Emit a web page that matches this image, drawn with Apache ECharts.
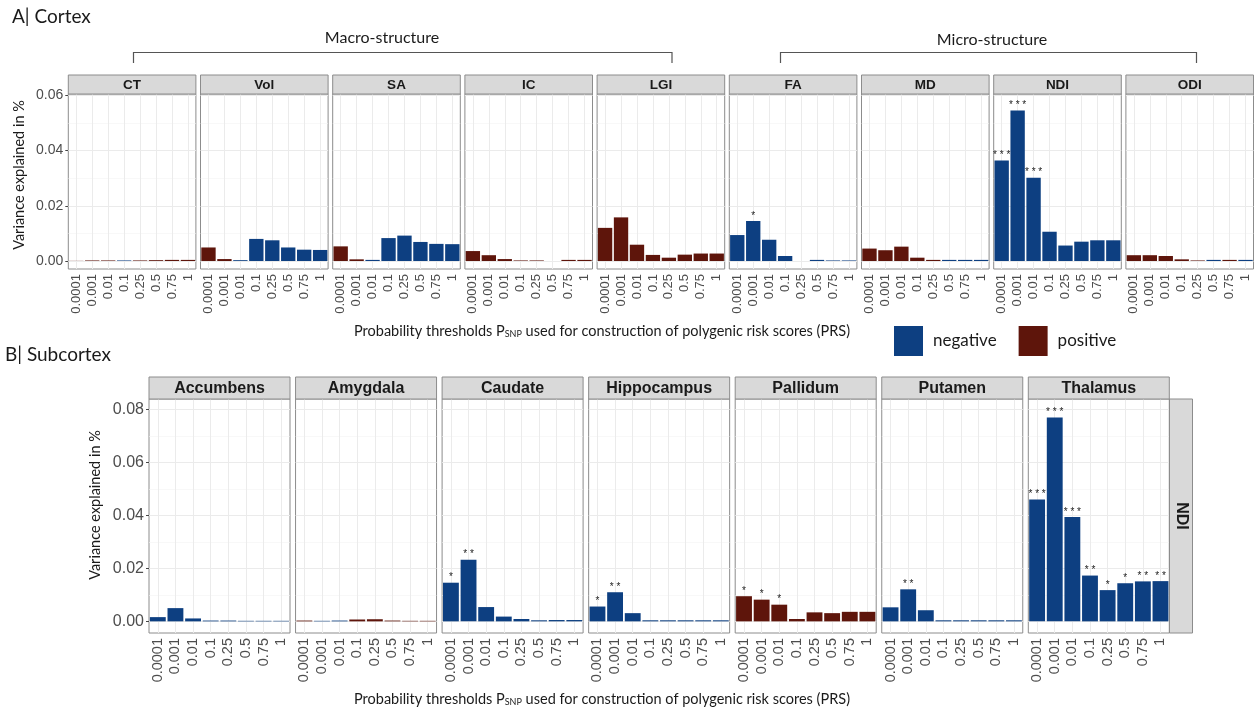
<!DOCTYPE html>
<html><head><meta charset="utf-8">
<script src="https://cdn.jsdelivr.net/npm/echarts@6/dist/echarts.min.js"></script>
<style>html,body{margin:0;padding:0;background:#fff}#c{width:1256px;height:711px}</style>
</head><body><div id="c"></div>
<script>
// ---------- DATA ----------
const thresholds = ['0.0001','0.001','0.01','0.1','0.25','0.5','0.75','1'];
const cortexNames = ['CT','Vol','SA','IC','LGI','FA','MD','NDI','ODI'];
const subcortexNames = ['Accumbens','Amygdala','Caudate','Hippocampus','Pallidum','Putamen','Thalamus'];
const cortexYTicks = [0, 0.02, 0.04, 0.06];
const subcortexYTicks = [0, 0.02, 0.04, 0.06, 0.08];
const legendNames = ['negative','positive'];

// Cortex (A)
const valCT  = [0.00005, 0.0002, 0.0002, 0.0002, 0.0002, 0.0003, 0.0004, 0.0004];
const dirCT  = ['pos','pos','pos','neg','pos','pos','pos','pos'];
const sigCT  = ['','','','','','','',''];
const valVol = [0.0049, 0.0007, 0.0003, 0.0080, 0.0075, 0.0049, 0.0041, 0.0040];
const dirVol = ['pos','pos','neg','neg','neg','neg','neg','neg'];
const sigVol = ['','','','','','','',''];
const valSA  = [0.0053, 0.0006, 0.0004, 0.0083, 0.0092, 0.0069, 0.0062, 0.0061];
const dirSA  = ['pos','pos','neg','neg','neg','neg','neg','neg'];
const sigSA  = ['','','','','','','',''];
const valIC  = [0.0036, 0.0021, 0.0007, 0.0002, 0.0002, 0.0, 0.0004, 0.0004];
const dirIC  = ['pos','pos','pos','pos','pos','pos','pos','pos'];
const sigIC  = ['','','','','','','',''];
const valLGI = [0.0120, 0.0158, 0.0059, 0.0022, 0.0012, 0.0023, 0.0027, 0.0027];
const dirLGI = ['pos','pos','pos','pos','pos','pos','pos','pos'];
const sigLGI = ['','','','','','','',''];
const valFA  = [0.0094, 0.0145, 0.0077, 0.0018, 0.0, 0.0004, 0.0002, 0.0002];
const dirFA  = ['neg','neg','neg','neg','neg','neg','neg','neg'];
const sigFA  = ['','*','','','','','',''];
const valMD  = [0.0045, 0.0039, 0.0052, 0.0012, 0.0004, 0.0004, 0.0004, 0.0004];
const dirMD  = ['pos','pos','pos','pos','pos','neg','neg','neg'];
const sigMD  = ['','','','','','','',''];
const valNDI = [0.0364, 0.0545, 0.0302, 0.0106, 0.0056, 0.0070, 0.0075, 0.0075];
const dirNDI = ['neg','neg','neg','neg','neg','neg','neg','neg'];
const sigNDI = ['***','***','***','','','','',''];
const valODI = [0.0021, 0.0021, 0.0018, 0.0006, 0.0002, 0.0004, 0.0004, 0.0004];
const dirODI = ['pos','pos','pos','pos','pos','neg','pos','neg'];
const sigODI = ['','','','','','','',''];

// Subcortex (B)
const valAcc = [0.0016, 0.0050, 0.0011, 0.0003, 0.0003, 0.0002, 0.0002, 0.0002];
const dirAcc = ['neg','neg','neg','neg','neg','neg','neg','neg'];
const sigAcc = ['','','','','','','',''];
const valAmy = [0.0003, 0.0002, 0.0003, 0.0007, 0.0008, 0.0003, 0.0002, 0.0002];
const dirAmy = ['pos','neg','neg','pos','pos','pos','pos','pos'];
const sigAmy = ['','','','','','','',''];
const valCau = [0.0146, 0.0233, 0.0054, 0.0018, 0.0009, 0.0004, 0.0005, 0.0005];
const dirCau = ['neg','neg','neg','neg','neg','neg','neg','neg'];
const sigCau = ['*','**','','','','','',''];
const valHip = [0.0056, 0.0110, 0.0031, 0.0004, 0.0004, 0.0004, 0.0004, 0.0004];
const dirHip = ['neg','neg','neg','neg','neg','neg','neg','neg'];
const sigHip = ['*','**','','','','','',''];
const valPal = [0.0095, 0.0082, 0.0063, 0.0009, 0.0034, 0.0031, 0.0036, 0.0036];
const dirPal = ['pos','pos','pos','pos','pos','pos','pos','pos'];
const sigPal = ['*','*','*','','','','',''];
const valPut = [0.0053, 0.0121, 0.0042, 0.0004, 0.0004, 0.0004, 0.0004, 0.0004];
const dirPut = ['neg','neg','neg','neg','neg','neg','neg','neg'];
const sigPut = ['','**','','','','','',''];
const valTha = [0.0460, 0.0770, 0.0394, 0.0173, 0.0118, 0.0144, 0.0151, 0.0152];
const dirTha = ['neg','neg','neg','neg','neg','neg','neg','neg'];
const sigTha = ['***','***','***','**','*','*','**','**'];

// ---------- BUILD ----------
const cortexPanels = [
  [valCT, dirCT, sigCT], [valVol, dirVol, sigVol], [valSA, dirSA, sigSA],
  [valIC, dirIC, sigIC], [valLGI, dirLGI, sigLGI], [valFA, dirFA, sigFA],
  [valMD, dirMD, sigMD], [valNDI, dirNDI, sigNDI], [valODI, dirODI, sigODI]
];
const subPanels = [
  [valAcc, dirAcc, sigAcc], [valAmy, dirAmy, sigAmy], [valCau, dirCau, sigCau],
  [valHip, dirHip, sigHip], [valPal, dirPal, sigPal], [valPut, dirPut, sigPut],
  [valTha, dirTha, sigTha]
];

const COL = { neg: '#0D3F81', pos: '#5E150B' };
const TXT = '#4D4D4D';
const BORDER = '#8C8C8C';
const SANS = 'Liberation Sans';
const HUM = 'Lato';

const grids = [], xAxes = [], yAxes = [], series = [], graphics = [];

function addRow(names, panels, opt) {
  names.forEach((nm, i) => {
    const idx = grids.length;
    const left = opt.left0 + i * opt.step;
    grids.push({ left: left, top: opt.top, width: opt.width, height: opt.height,
      show: true, backgroundColor: '#fff', borderColor: BORDER, borderWidth: 1 });
    xAxes.push({ gridIndex: idx, type: 'category', data: thresholds,
      axisLine: { show: false },
      axisTick: { show: true, alignWithLabel: true, length: 3, lineStyle: { color: '#444' } },
      axisLabel: { interval: 0, rotate: 90, fontSize: opt.xFont, color: TXT, fontFamily: SANS, margin: 5 },
      splitLine: { show: false } });
    const first = i === 0;
    yAxes.push({ gridIndex: idx, type: 'value', min: opt.ymin, max: opt.ymax,
      axisLine: { show: false },
      axisTick: { show: first, length: 3, customValues: opt.ticks, lineStyle: { color: '#444' } },
      axisLabel: { show: first, customValues: opt.ticks, fontSize: opt.yFont, color: TXT, fontFamily: SANS, margin: 5,
        formatter: v => Number(v).toFixed(2) },
      splitLine: { show: false } });
    const [vals, dirs, sigs] = panels[i];
    const minor = [];
    for (let k = 0; k < opt.ticks.length - 1; k++) minor.push((opt.ticks[k] + opt.ticks[k + 1]) / 2);
    series.push({ type: 'bar', xAxisIndex: idx, yAxisIndex: idx, barCategoryGap: '10%', z: 2,
      data: vals.map((v, j) => ({ value: v, itemStyle: { color: COL[dirs[j]] } })),
      itemStyle: { borderWidth: 0 },
      label: { show: true, position: 'top', distance: 0, fontSize: 10, color: '#222', fontFamily: SANS,
        formatter: p => sigs[p.dataIndex].split('').join(' ') },
      markLine: { silent: true, z: 1, symbol: ['none', 'none'], label: { show: false }, animation: false,
        lineStyle: { color: '#EBEBEB', type: 'solid', width: 1 },
        emphasis: { disabled: true },
        data: [
          ...opt.ticks.map(v => ({ yAxis: v })),
          ...minor.map(v => ({ yAxis: v, lineStyle: { color: '#F3F3F3', width: 0.6, type: 'solid' } })),
          ...thresholds.map((t, j) => ({ xAxis: j }))
        ] } });
    // strip
    graphics.push({ type: 'rect', shape: { x: left, y: opt.top - opt.stripH, width: opt.width, height: opt.stripH },
      style: { fill: '#D9D9D9', stroke: BORDER, lineWidth: 1 }, z: 10 });
    graphics.push({ type: 'text', x: left + opt.width / 2, y: opt.top - opt.stripH / 2 + 0.5, z: 11,
      style: { text: nm, fill: '#1A1A1A', font: 'bold ' + opt.stripFont + 'px ' + SANS, textAlign: 'center', textVerticalAlign: 'middle' } });
  });
}

addRow(cortexNames, cortexPanels, { left0: 68.3, step: 132.2, width: 127.6, top: 94, height: 175,
  ymin: -0.0029, ymax: 0.0605, ticks: cortexYTicks, stripH: 19, stripFont: 13.5, xFont: 13, yFont: 14 });
addRow(subcortexNames, subPanels, { left0: 149, step: 146.55, width: 141, top: 399, height: 234,
  ymin: -0.0044, ymax: 0.084, ticks: subcortexYTicks, stripH: 22, stripFont: 16, xFont: 14.5, yFont: 16 });

// legend dummy series
series.push({ type: 'scatter', name: legendNames[0], xAxisIndex: 0, yAxisIndex: 0, data: [], itemStyle: { color: COL.neg, opacity: 1 } });
series.push({ type: 'scatter', name: legendNames[1], xAxisIndex: 0, yAxisIndex: 0, data: [], itemStyle: { color: COL.pos, opacity: 1 } });

// right facet strip "NDI" for subcortex row
graphics.push({ type: 'rect', shape: { x: 1169.5, y: 399, width: 23, height: 234 },
  style: { fill: '#D9D9D9', stroke: BORDER, lineWidth: 1 }, z: 10 });
graphics.push({ type: 'text', x: 1181, y: 516, rotation: -Math.PI / 2, z: 11,
  style: { text: 'NDI', fill: '#1A1A1A', font: 'bold 16px ' + SANS, textAlign: 'center', textVerticalAlign: 'middle' } });

// annotations
function txt(t, x, y, size, extra) {
  graphics.push(Object.assign({ type: 'text', x: x, y: y, z: 11,
    style: Object.assign({ text: t, fill: '#1A1A1A', font: size + 'px ' + HUM, textAlign: 'left', textVerticalAlign: 'middle' }, extra || {}) }));
}
txt('A| Cortex', 12, 17, 19);
txt('B| Subcortex', 5, 355, 19);
txt('Macro-structure', 382, 38, 16, { textAlign: 'center' });
txt('Micro-structure', 992, 40, 16, { textAlign: 'center' });
graphics.push({ type: 'polyline', z: 11, shape: { points: [[133.5, 63], [133.5, 52.5], [672, 52.5], [672, 63]] },
  style: { stroke: '#555', lineWidth: 1.2, fill: null } });
graphics.push({ type: 'polyline', z: 11, shape: { points: [[780.5, 63], [780.5, 52.5], [1196.5, 52.5], [1196.5, 63]] },
  style: { stroke: '#555', lineWidth: 1.2, fill: null } });

const xTitleRich = { a: { fontSize: 14.5, fontFamily: HUM, fill: '#1A1A1A' }, s: { fontSize: 9, fontFamily: HUM, fill: '#1A1A1A', padding: [6, 0, 0, 0] } };
['A', 'B'].forEach((k, n) => {
  graphics.push({ type: 'text', x: 602, y: n === 0 ? 331 : 699, z: 11,
    style: { text: '{a|Probability thresholds P}{s|SNP}{a| used for construction of polygenic risk scores (PRS)}',
      rich: xTitleRich, textAlign: 'center', textVerticalAlign: 'middle' } });
});
graphics.push({ type: 'text', x: 19, y: 175, rotation: Math.PI / 2, z: 11,
  style: { text: 'Variance explained in %', fill: '#1A1A1A', font: '14.5px ' + HUM, textAlign: 'center', textVerticalAlign: 'middle' } });
graphics.push({ type: 'text', x: 95, y: 505, rotation: Math.PI / 2, z: 11,
  style: { text: 'Variance explained in %', fill: '#1A1A1A', font: '14.5px ' + HUM, textAlign: 'center', textVerticalAlign: 'middle' } });

const chart = echarts.init(document.getElementById('c'), null, { renderer: 'canvas' });
chart.setOption({
  animation: false,
  backgroundColor: '#fff',
  grid: grids, xAxis: xAxes, yAxis: yAxes, series: series,
  legend: { left: 894, top: 326, padding: 0, itemWidth: 29, itemHeight: 30, itemGap: 22, icon: 'rect',
    data: legendNames, selectedMode: false,
    itemStyle: { opacity: 1 },
    formatter: n => '{t|' + n + '}',
    textStyle: { fontFamily: HUM, fontSize: 17, color: '#1A1A1A', rich: { t: { fontFamily: HUM, fontSize: 17, color: '#1A1A1A', padding: [0, 0, 0, 5] } } } },
  graphic: { elements: graphics }
});
</script></body></html>
